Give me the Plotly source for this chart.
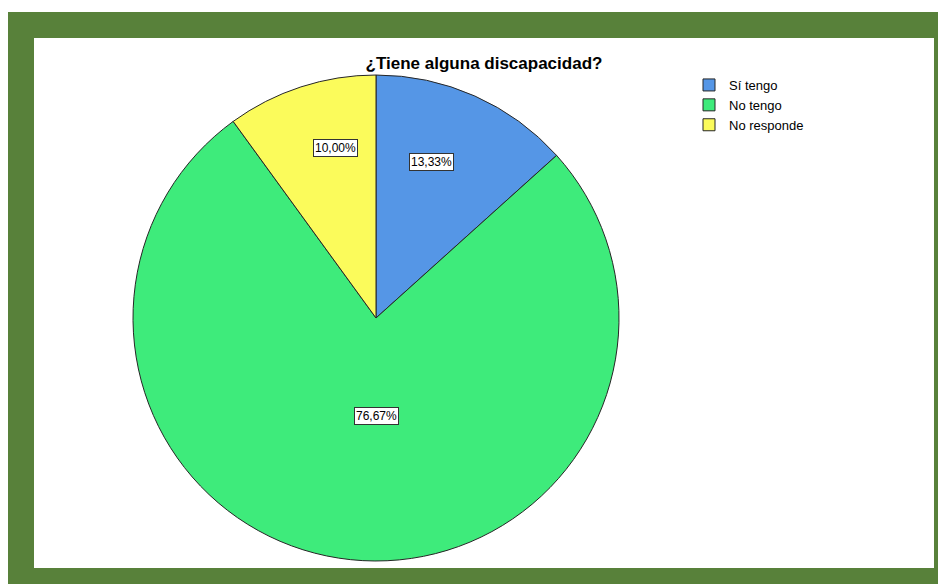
import plotly.graph_objects as go

# the page body adds an 8px margin, so the figure is 8px smaller than the window
OFF = 8
W, H = 946 - OFF, 584 - OFF

# Data
categories = ['Sí tengo', 'No tengo', 'No responde']
counts = [4, 23, 3]
pct_labels = ['13,33%', '76,67%', '10,00%']
slice_colors = ['#5596E6', '#3EEB7B', '#FBFB5B']

# label box centres in screen pixels (SPSS style placement)
label_pos = [(431, 162), (376, 416), (335, 148)]


def px(x):
    return (x - OFF) / W


def py(y):
    return 1 - (y - OFF) / H


fig = go.Figure()

fig.add_trace(go.Pie(
    labels=categories,
    values=counts,
    sort=False,
    direction='clockwise',
    rotation=0,
    marker=dict(colors=slice_colors, line=dict(color='#262626', width=1)),
    textinfo='none',
    hovertemplate='%{label}: %{percent}<extra></extra>',
    domain=dict(x=[px(133), px(619)], y=[py(561), py(75)]),
))

# percent labels in boxes
for txt, (x, y) in zip(pct_labels, label_pos):
    fig.add_annotation(
        x=px(x), y=py(y), xref='paper', yref='paper',
        xanchor='center', yanchor='middle',
        text=txt, showarrow=False,
        font=dict(family='Liberation Sans, Arial, sans-serif', size=12, color='#000000'),
        bgcolor='#FFFFFF', bordercolor='#333333', borderwidth=1, borderpad=1,
    )

# green frame and white panel
fig.add_shape(type='rect', xref='paper', yref='paper',
              x0=px(8), x1=1, y0=0, y1=py(12),
              fillcolor='#58813A', line=dict(width=0), layer='below')
fig.add_shape(type='rect', xref='paper', yref='paper',
              x0=px(34), x1=px(934), y0=py(568), y1=py(38),
              fillcolor='#FFFFFF', line=dict(width=0), layer='below')

fig.update_layout(
    width=W, height=H,
    margin=dict(l=0, r=0, t=0, b=0),
    paper_bgcolor='#FFFFFF',
    plot_bgcolor='#FFFFFF',
    title=dict(
        text='<b>¿Tiene alguna discapacidad?</b>',
        x=px(484), xanchor='center', xref='paper',
        y=py(63), yanchor='middle', yref='paper',
        font=dict(family='Liberation Sans, Arial, sans-serif', size=17, color='#000000'),
    ),
    legend=dict(
        x=px(689), y=py(70), xanchor='left', yanchor='top',
        font=dict(family='Liberation Sans, Arial, sans-serif', size=13, color='#000000'),
        bgcolor='rgba(0,0,0,0)', traceorder='normal',
    ),
    showlegend=True,
)

fig.write_html('out.html')
